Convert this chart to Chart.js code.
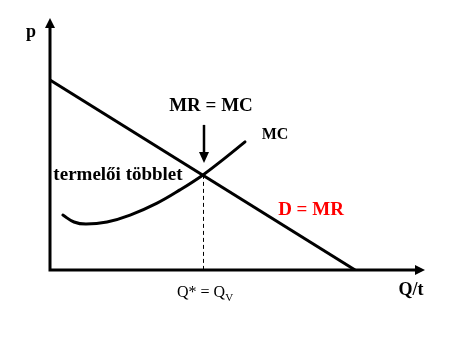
<!DOCTYPE html>
<html>
<head>
<meta charset="utf-8">
<script src="https://cdn.jsdelivr.net/npm/chart.js@4"></script>
<style>
  html, body { margin: 0; padding: 0; background: #fff; }
  #wrap { width: 467px; height: 343px; }
</style>
</head>
<body>
<div id="wrap"><canvas id="c" width="467" height="343"></canvas></div>
<script>
// Axis extents (economic units)
const qMax = 12.5;
const pMax = 8.4;

// Demand (D = MR): straight line from p-intercept to Q-intercept
const demandQ = [0, 10.17];
const demandP = [6.33, 0];

// Marginal cost curve
const mcQ = [0.43, 0.8, 1.2, 1.9, 2.67, 3.57, 4.33, 5.1, 5.83, 6.5];
const mcP = [1.83, 1.6, 1.53, 1.6, 1.83, 2.23, 2.67, 3.17, 3.73, 4.27];

// Equilibrium MR = MC
const eqQ = [5.1];
const eqP = [3.17];

const toPts = (xs, ys) => xs.map((x, i) => ({ x: x, y: ys[i] }));

const annotations = {
  id: 'econ',
  afterDatasetsDraw(chart) {
    const ctx = chart.ctx;
    const xs = chart.scales.x, ys = chart.scales.y;
    const X = v => xs.getPixelForValue(v), Y = v => ys.getPixelForValue(v);
    const x0 = X(0), y0 = Y(0), xTop = X(qMax), yTop = Y(pMax);
    ctx.save();
    ctx.fillStyle = '#000';
    ctx.strokeStyle = '#000';
    ctx.lineWidth = 3;
    ctx.lineCap = 'butt';
    // axes
    ctx.beginPath();
    ctx.moveTo(x0, y0 + 1.5); ctx.lineTo(x0, yTop + 8);
    ctx.moveTo(x0 - 1.5, y0); ctx.lineTo(xTop - 8, y0);
    ctx.stroke();
    // arrowheads
    ctx.beginPath();
    ctx.moveTo(x0, yTop); ctx.lineTo(x0 - 5, yTop + 10); ctx.lineTo(x0 + 5, yTop + 10); ctx.closePath();
    ctx.fill();
    ctx.beginPath();
    ctx.moveTo(xTop, y0); ctx.lineTo(xTop - 10, y0 - 5); ctx.lineTo(xTop - 10, y0 + 5); ctx.closePath();
    ctx.fill();
    // dashed drop line
    const ex = X(eqQ[0]), ey = Y(eqP[0]);
    ctx.lineWidth = 1;
    ctx.setLineDash([4, 3]);
    ctx.beginPath();
    ctx.moveTo(ex + 0.5, ey); ctx.lineTo(ex + 0.5, y0);
    ctx.stroke();
    ctx.setLineDash([]);
    // down arrow to equilibrium
    ctx.lineWidth = 2.5;
    ctx.beginPath();
    ctx.moveTo(ex + 1, ey - 50); ctx.lineTo(ex + 1, ey - 20);
    ctx.stroke();
    ctx.beginPath();
    ctx.moveTo(ex + 1, ey - 12); ctx.lineTo(ex - 4, ey - 23); ctx.lineTo(ex + 6, ey - 23); ctx.closePath();
    ctx.fill();
    // texts
    ctx.textBaseline = 'middle';
    ctx.textAlign = 'center';
    const serif = '"Liberation Serif", "Times New Roman", serif';
    ctx.font = 'bold 18px ' + serif;
    ctx.fillText('p', x0 - 19, yTop + 14);
    ctx.fillText('Q/t', xTop - 14, y0 + 20);
    ctx.font = 'bold 19px ' + serif;
    ctx.fillText('MR = MC', ex + 8, ey - 69);
    ctx.font = 'bold 16px ' + serif;
    ctx.fillText('MC', X(mcQ[mcQ.length - 1]) + 30, Y(mcP[mcP.length - 1]) - 7);
    ctx.font = 'bold 19px ' + serif;
    ctx.fillText('termelői többlet', 118, ey);
    ctx.fillStyle = '#ff0000';
    ctx.font = 'bold 19px ' + serif;
    ctx.fillText('D = MR', 311, 210);
    ctx.fillStyle = '#000';
    ctx.font = '16px ' + serif;
    ctx.textAlign = 'left';
    const qx = ex - 26, qy = y0 + 23;
    ctx.fillText('Q* = Q', qx, qy);
    const w = ctx.measureText('Q* = Q').width;
    ctx.font = '11px ' + serif;
    ctx.fillText('V', qx + w, qy + 5);
    ctx.restore();
  }
};

new Chart(document.getElementById('c'), {
  type: 'scatter',
  data: {
    datasets: [
      {
        data: toPts(demandQ, demandP),
        showLine: true, borderColor: '#000', borderWidth: 3, pointRadius: 0
      },
      {
        data: toPts(mcQ, mcP),
        showLine: true, borderColor: '#000', borderWidth: 3, pointRadius: 0,
        tension: 0.4, borderCapStyle: 'round'
      }
    ]
  },
  options: {
    responsive: false,
    animation: false,
    devicePixelRatio: 1,
    layout: { padding: { left: 50, right: 42, top: 18, bottom: 73 } },
    plugins: { legend: { display: false }, tooltip: { enabled: false } },
    scales: {
      x: { type: 'linear', min: 0, max: qMax, display: false },
      y: { type: 'linear', min: 0, max: pMax, display: false }
    }
  },
  plugins: [annotations]
});
</script>
</body>
</html>
